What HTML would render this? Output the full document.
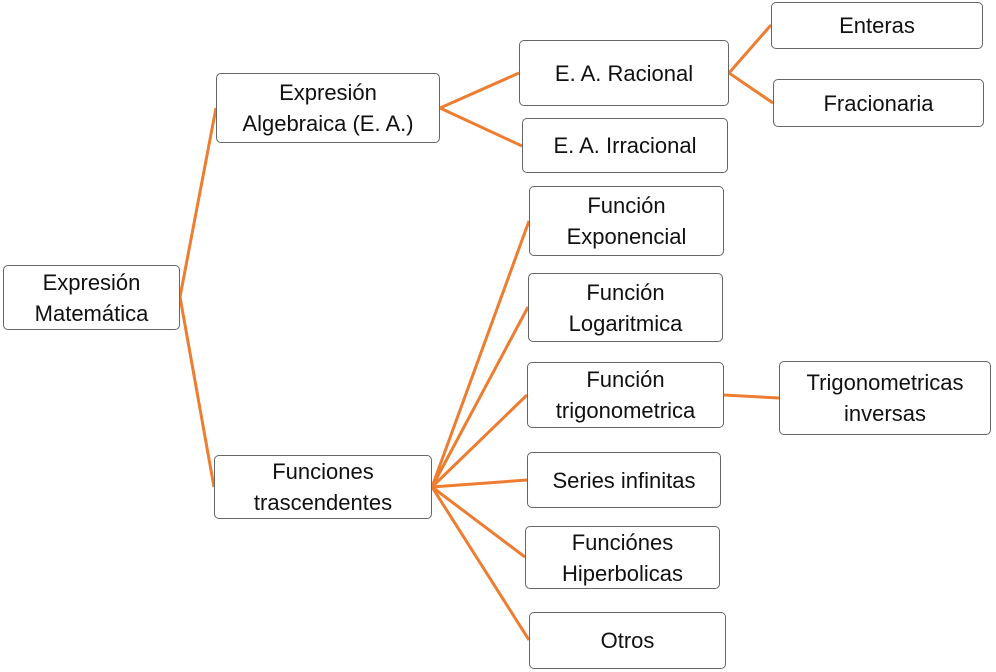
<!DOCTYPE html>
<html><head><meta charset="utf-8"><style>
body{margin:0;width:996px;height:672px;background:#fff;position:relative;overflow:hidden;font-family:"Liberation Sans",sans-serif}
.b{position:absolute;box-sizing:border-box;border:1px solid #666;border-radius:5px;background:#fff;display:flex;align-items:center;justify-content:center;text-align:center;font-size:22px;line-height:31px;color:#111}
svg{position:absolute;left:0;top:0}
</style></head><body>
<svg width="996" height="672"><g stroke="#ED7D31" stroke-width="3" fill="none">
<path d="M216,108 L180,297 L214,487"/>
<path d="M519,73 L440,108 L522,146"/>
<path d="M771,25 L729,73 L773,103"/>
<path d="M724,395 L779,398"/>
<path d="M529,221 L432,487 M528,307 L432,487 M527,395 L432,487 M527,480 L432,487 M525,557 L432,487 M529,640 L432,487"/>
</g></svg>
<div class="b" style="left:3px;top:265px;width:177px;height:65px">Expresión<br>Matemática</div>
<div class="b" style="left:216px;top:73px;width:224px;height:70px">Expresión<br>Algebraica (E. A.)</div>
<div class="b" style="left:214px;top:455px;width:218px;height:64px">Funciones<br>trascendentes</div>
<div class="b" style="left:519px;top:40px;width:210px;height:66px">E. A. Racional</div>
<div class="b" style="left:522px;top:118px;width:206px;height:55px">E. A. Irracional</div>
<div class="b" style="left:771px;top:2px;width:212px;height:47px">Enteras</div>
<div class="b" style="left:773px;top:79px;width:211px;height:48px">Fracionaria</div>
<div class="b" style="left:529px;top:186px;width:195px;height:70px">Función<br>Exponencial</div>
<div class="b" style="left:528px;top:273px;width:195px;height:69px">Función<br>Logaritmica</div>
<div class="b" style="left:527px;top:362px;width:197px;height:66px">Función<br>trigonometrica</div>
<div class="b" style="left:779px;top:361px;width:212px;height:74px">Trigonometricas<br>inversas</div>
<div class="b" style="left:527px;top:452px;width:194px;height:56px">Series infinitas</div>
<div class="b" style="left:525px;top:526px;width:195px;height:63px">Funciónes<br>Hiperbolicas</div>
<div class="b" style="left:529px;top:612px;width:197px;height:57px">Otros</div>
</body></html>
